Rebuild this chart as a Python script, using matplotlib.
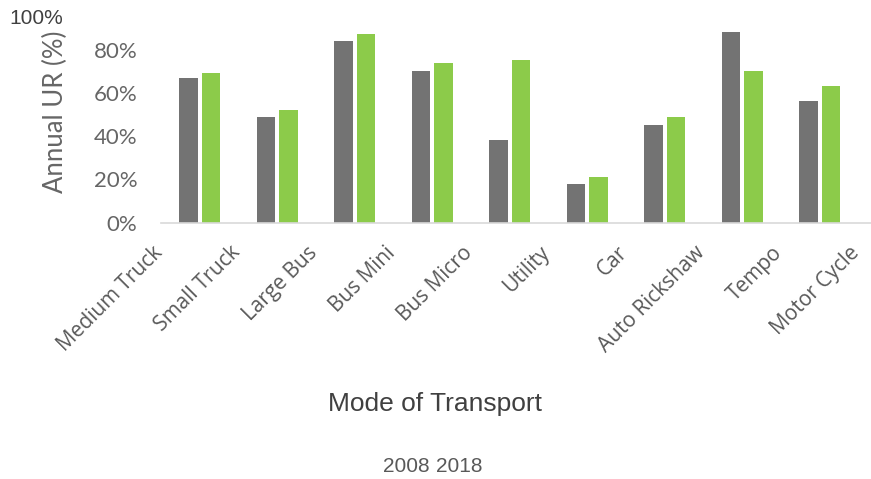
import numpy as np
import matplotlib.pyplot as plt
from matplotlib.transforms import ScaledTranslation

# annual utilisation rate by mode of transport
categories = ['Medium Truck', 'Small Truck', 'Large Bus', 'Bus Mini', 'Bus Micro',
              'Utility', 'Car', 'Auto Rickshaw', 'Tempo', 'Motor Cycle']
ur_2008 = [67, 49, 84, 70, 38, 18, 45, 88, 56]
ur_2018 = [69, 52, 87, 74, 75, 21, 49, 70, 63]
years = ['2008', '2018']
yticks = [0, 20, 40, 60, 80]

GREY = '#737373'
GREEN = '#8ccb4a'
TEXT = '#595959'


def main():
    fig = plt.figure(figsize=(8.71, 4.79), dpi=100)
    # the plot area runs past the right edge of the figure
    ax = fig.add_axes([161 / 871, 0.535, 775 / 871, 0.452])

    x = np.arange(len(ur_2008))
    w = 0.24
    ax.bar(x - 0.145, ur_2008, w, color=GREY, label=years[0])
    ax.bar(x + 0.145, ur_2018, w, color=GREEN, label=years[1])

    ax.set_xlim(-0.5, len(categories) - 0.5)
    ax.set_ylim(0, 100)
    ax.set_yticks(yticks)
    ax.set_yticklabels(['%d%%' % v for v in yticks], family=['Lato', 'DejaVu Sans'],
                       fontsize=16, color='#666666')
    ax.tick_params(axis='y', length=0, pad=17)

    ax.set_xticks(np.arange(len(categories)))
    ax.set_xticklabels(categories, rotation=45, ha='right', family=['Open Sans', 'DejaVu Sans'],
                       fontsize=15, color=TEXT)
    ax.tick_params(axis='x', length=0, pad=14)
    shift = ScaledTranslation(-33 / 100, 0, fig.dpi_scale_trans)
    for lbl in ax.get_xticklabels():
        lbl.set_transform(lbl.get_transform() + shift)

    for side in ['top', 'right', 'left']:
        ax.spines[side].set_visible(False)
    ax.spines['bottom'].set_color('#d9d9d9')
    ax.spines['bottom'].set_linewidth(1.2)

    fig.text(55 / 871, 1 - 112 / 479, 'Annual UR (%)', rotation=90, ha='center', va='center',
             family=['Lato', 'DejaVu Sans'], fontsize=18.5, color='#666666')
    fig.text(9 / 871, 1 - 19 / 479, '100%', ha='left', va='center',
             family=['Liberation Sans'], fontsize=15, color='#404040')
    fig.text(435 / 871, 1 - 404 / 479, 'Mode of Transport', ha='center', va='center',
             family=['Liberation Sans'], fontsize=19, color='#404040')

    leg = fig.legend(labels=years, handles=[], loc='center',
                     bbox_to_anchor=(433 / 871, 1 - 467 / 479), ncol=2, frameon=False,
                     handlelength=0, handletextpad=0, columnspacing=0.3,
                     prop={'family': 'Liberation Sans', 'size': 15})
    for t in leg.get_texts():
        t.set_color(TEXT)

    fig.savefig('out.png', dpi=100)


if __name__ == '__main__':
    main()
